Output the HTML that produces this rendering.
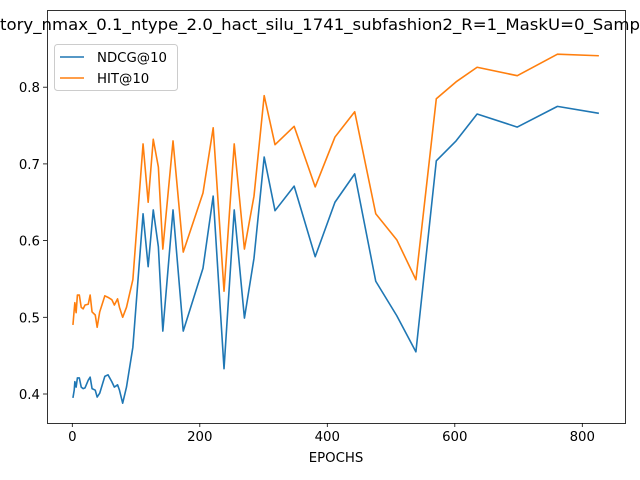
<!DOCTYPE html>
<html><head><meta charset="utf-8"><style>body{margin:0;background:#fff}svg{display:block;font-family:"DejaVu Sans","Liberation Sans",sans-serif}</style></head>
<body>
<svg id="chart" width="640" height="480">
<text x="0" y="30" font-size="16" textLength="640" lengthAdjust="spacingAndGlyphs">tory_nmax_0.1_ntype_2.0_hact_silu_1741_subfashion2_R=1_MaskU=0_Samp</text>
<g id="axes"></g>
<g id="series"></g>
<g>
<rect x="54.5" y="44.5" width="123" height="46" rx="3" fill="#fff" fill-opacity="0.8" stroke="#ccc"/>
<line x1="60" y1="57" x2="84" y2="57" stroke="#1f77b4" stroke-width="1.6"/>
<text x="97" y="62" font-size="13.3">NDCG@10</text>
<line x1="60" y1="78" x2="84" y2="78" stroke="#ff7f0e" stroke-width="1.6"/>
<text x="97" y="83" font-size="13.3">HIT@10</text>
</g>
</svg>
<script>
const epochs=[1,3,4,6,8,11,14,17,20,25,28,31,36,39,43,51,56,62,66,71,74,79,85,95,111,119,127,135,142,158,174,205,221,238,254,270,285,301,318,348,381,412,443,476,509,539,571,602,635,698,761,826];
const ndcg=[.395,.405,.416,.409,.421,.421,.409,.407,.408,.418,.422,.407,.405,.396,.401,.423,.425,.416,.409,.412,.405,.388,.409,.461,.635,.566,.640,.592,.482,.640,.482,.564,.658,.433,.640,.499,.577,.709,.639,.671,.579,.650,.687,.547,.502,.455,.704,.730,.765,.748,.775,.766];
const hit=[.490,.510,.519,.506,.529,.529,.513,.511,.516,.517,.529,.507,.503,.487,.507,.528,.526,.523,.516,.524,.513,.500,.513,.549,.726,.650,.732,.696,.589,.730,.585,.662,.747,.534,.726,.589,.658,.789,.725,.749,.670,.735,.768,.635,.601,.549,.785,.807,.826,.815,.843,.841];
const xTicks=[0,200,400,600,800];
const yTicks=[0.4,0.5,0.6,0.7,0.8];
const L=47,R=625,T=10,B=423;
const X=v=>72.3+v*0.6375;
const Y=v=>394-(v-0.4)*767;
const NS="http://www.w3.org/2000/svg";
function mk(t,a,p){const e=document.createElementNS(NS,t);for(const k in a)e.setAttribute(k,a[k]);p.appendChild(e);return e;}
const ax=document.getElementById('axes');
const frame=mk('rect',{x:L+.5,y:T+.5,width:R-L,height:B-T,fill:'none',stroke:'#000','stroke-width':0.8},ax);


xTicks.forEach(t=>{const x=X(t);
mk('line',{x1:x,y1:B,x2:x,y2:B+4,stroke:'#000','stroke-width':0.8},ax);
const tx=mk('text',{x:x,y:B+18,'font-size':13.3,'text-anchor':'middle'},ax);tx.textContent=t;

});
yTicks.forEach(t=>{const y=Y(t);
mk('line',{x1:L-4,y1:y,x2:L,y2:y,stroke:'#000','stroke-width':0.8},ax);
const tx=mk('text',{x:L-7,y:y+5,'font-size':13.3,'text-anchor':'end'},ax);tx.textContent=t.toFixed(1);

});
const xl=mk('text',{x:336,y:462,'font-size':13.3,'text-anchor':'middle'},ax);xl.textContent='EPOCHS';


const sg=document.getElementById('series');
[[ndcg,'#1f77b4','ndcg-line'],[hit,'#ff7f0e','hit-line']].forEach(([d,c,n])=>{
const p=mk('polyline',{points:epochs.map((e,i)=>X(e)+','+Y(d[i])).join(' '),fill:'none',stroke:c,'stroke-width':1.6,'stroke-linejoin':'round'},sg);

});
</script>
</body></html>
